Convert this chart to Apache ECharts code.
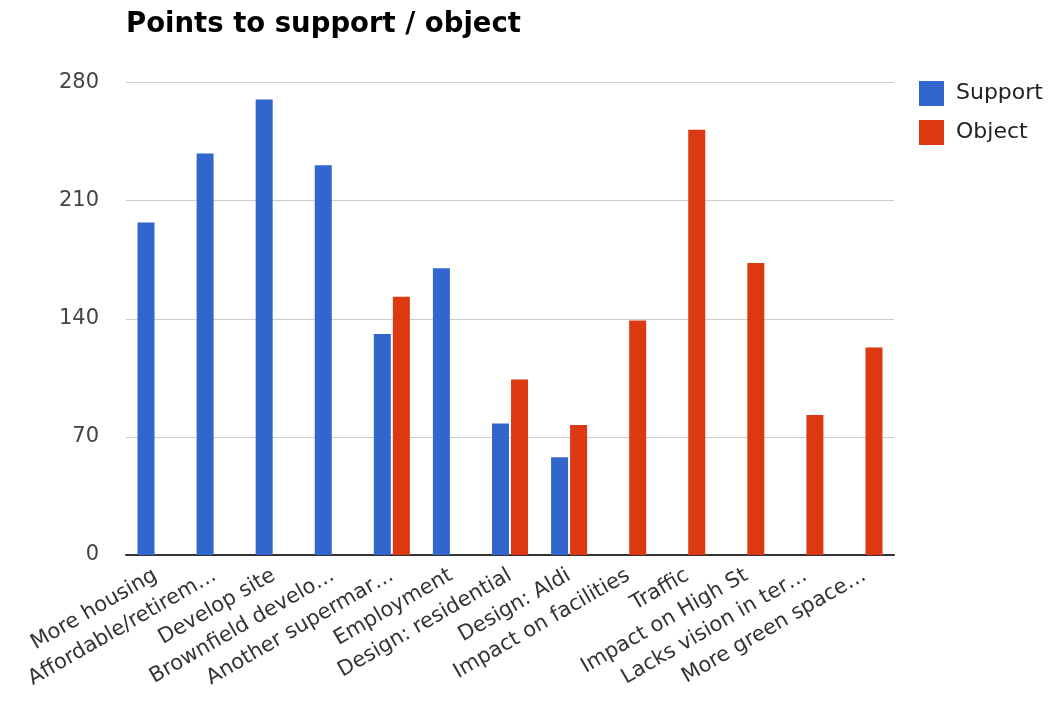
<!DOCTYPE html>
<html>
<head>
<meta charset="utf-8">
<script src="https://cdn.jsdelivr.net/npm/echarts@6/dist/echarts.min.js"></script>
<style>
html,body{margin:0;padding:0;background:#fff;}
#chart{width:1050px;height:704px;}
</style>
</head>
<body>
<div id="chart"></div>
<script>
const categories = ["More housing", "Affordable/retirem…", "Develop site", "Brownfield develo…", "Another supermar…", "Employment", "Design: residential", "Design: Aldi", "Impact on facilities", "Traffic", "Impact on High St", "Lacks vision in ter…", "More green space…"];
const supportValues = [197, 238, 270, 231, 131, 170, 78, 58, null, null, null, null, null];
const objectValues = [null, null, null, null, 153, null, 104, 77, 139, 252, 173, 83, 123];
const yTicks = [0, 70, 140, 210, 280];

const font = "DejaVu Sans";
const chart = echarts.init(document.getElementById('chart'));
chart.setOption({
  animation: false,
  title: {
    text: "Points to support / object",
    left: 126, top: 11, padding: 0,
    textStyle: { fontFamily: font, fontWeight: 'bold', fontSize: 27.5, color: '#000' }
  },
  legend: {
    orient: 'vertical', left: 919, top: 81, padding: 0,
    itemWidth: 25, itemHeight: 25, itemGap: 14, icon: 'rect',
    textStyle: { fontFamily: font, fontSize: 22, color: '#222', padding: [0, 0, 0, 7] },
    data: ['Support', 'Object']
  },
  grid: { left: 126, right: 156, top: 82.5, bottom: 149, containLabel: false },
  xAxis: {
    type: 'category', data: categories,
    axisLine: { lineStyle: { color: '#333', width: 2 } },
    axisTick: { show: false },
    axisLabel: { rotate: 30, interval: 0, margin: 19, fontFamily: font, fontSize: 21, color: '#333' }
  },
  yAxis: {
    type: 'value', min: yTicks[0], max: yTicks[yTicks.length - 1], interval: 70,
    axisLine: { show: false }, axisTick: { show: false },
    splitLine: { lineStyle: { color: '#cccccc', width: 1 } },
    axisLabel: { margin: 27, fontFamily: font, fontSize: 21, color: '#444' }
  },
  series: [
    { name: 'Support', type: 'bar', data: supportValues, barWidth: 17, barGap: '12%', itemStyle: { color: '#3366cc' } },
    { name: 'Object', type: 'bar', data: objectValues, barWidth: 17, barGap: '12%', itemStyle: { color: '#dc3912' } }
  ]
});
</script>
</body>
</html>
